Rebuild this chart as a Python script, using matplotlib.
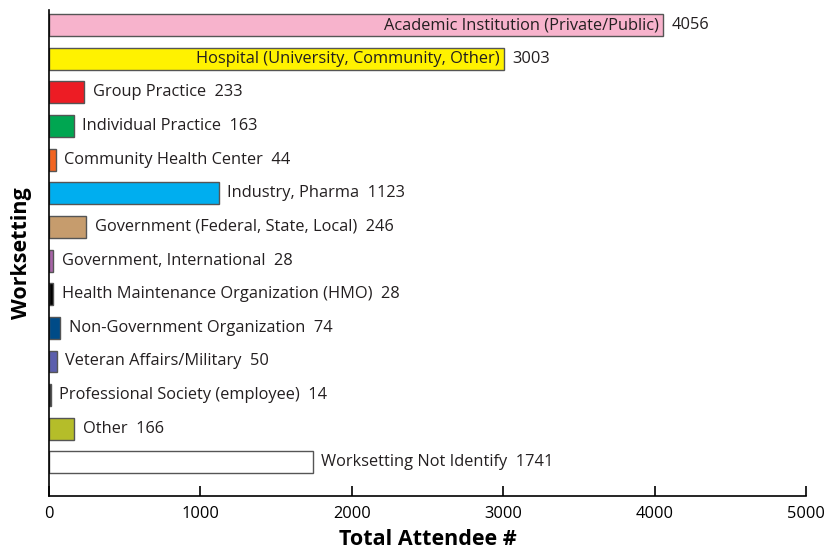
import matplotlib.pyplot as plt

categories = [
    "Academic Institution (Private/Public)",
    "Hospital (University, Community, Other)",
    "Group Practice",
    "Individual Practice",
    "Community Health Center",
    "Industry, Pharma",
    "Government (Federal, State, Local)",
    "Government, International",
    "Health Maintenance Organization (HMO)",
    "Non-Government Organization",
    "Veteran Affairs/Military",
    "Professional Society (employee)",
    "Other",
    "Worksetting Not Identify",
]
counts = [4056, 3003, 233, 163, 44, 1123, 246, 28, 28, 74, 50, 14, 166, 1741]
colors = ["#F7B3CC", "#FFF200", "#ED1C24", "#00A651", "#F26522", "#00AEEF",
          "#C69C6D", "#A864A8", "#000000", "#004B87", "#5B5EAD", "#333333",
          "#B5BD29", "#FFFFFF"]
inside = [True, True] + [False] * 12

plt.rcParams['font.family'] = ['Open Sans', 'DejaVu Sans']

fig = plt.figure(figsize=(8.27, 5.51), dpi=100)
ax = fig.add_axes([0.0593, 0.0998, 0.9153, 0.882])

ys = list(range(len(categories)))
ax.barh(ys, counts, height=0.65, color=colors, edgecolor="#555555", linewidth=1.0)

fs = 11.8
for i, (name, c) in enumerate(zip(categories, counts)):
    if inside[i]:
        ax.annotate(name, (c, i), xytext=(-3, 0), textcoords="offset points",
                    ha="right", va="center", fontsize=fs, color="#231F20")
        ax.annotate(str(c), (c, i), xytext=(6, 0), textcoords="offset points",
                    ha="left", va="center", fontsize=fs, color="#231F20")
    else:
        ax.annotate(name + "  " + str(c), (c, i), xytext=(6, 0), textcoords="offset points",
                    ha="left", va="center", fontsize=fs, color="#231F20")

ax.set_xlim(0, 5000)
ax.set_ylim(14.0, -0.45)
ax.set_xticks([0, 1000, 2000, 3000, 4000, 5000])
ax.tick_params(axis="x", direction="in", length=7, width=1.2, labelsize=fs, pad=7)
ax.set_yticks([])
ax.spines["top"].set_visible(False)
ax.spines["right"].set_visible(False)
ax.spines["left"].set_linewidth(1.2)
ax.spines["bottom"].set_linewidth(1.2)

ax.set_xlabel("Total Attendee #", fontsize=15.5, fontweight="bold", labelpad=5)
ax.set_ylabel("Worksetting", fontsize=15.5, fontweight="bold", labelpad=12)

plt.savefig("out.png", dpi=100)
